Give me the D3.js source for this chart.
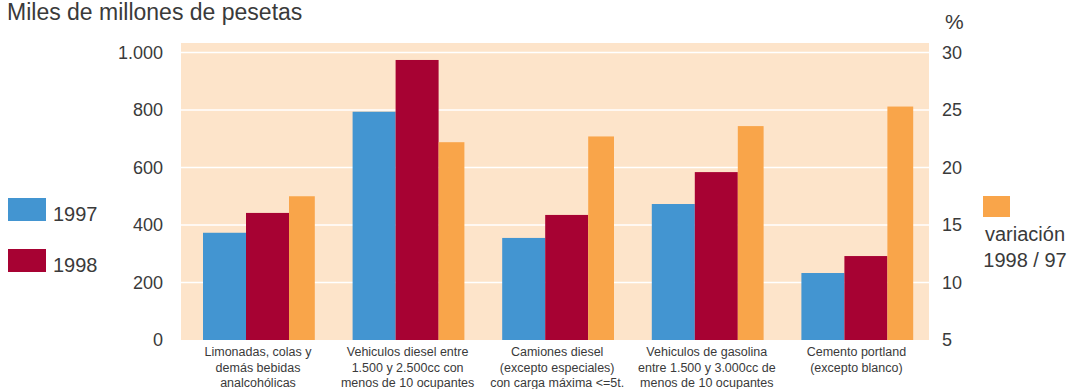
<!DOCTYPE html>
<html>
<head>
<meta charset="utf-8">
<script src="https://cdn.jsdelivr.net/npm/d3@7"></script>
<style>
	body { margin: 0; background: #fff; }
	svg { display: block; font-family: "Liberation Sans", Arial, sans-serif; }
</style>
</head>
<body>
<div id="chart"></div>
<script>
const categories = [
	['Limonadas, colas y', 'demás bebidas', 'analcohólicas'],
	['Vehiculos diesel entre', '1.500 y 2.500cc con', 'menos de 10 ocupantes'],
	['Camiones diesel', '(excepto especiales)', 'con carga máxima <=5t.'],
	['Vehiculos de gasolina', 'entre 1.500 y 3.000cc de', 'menos de 10 ocupantes'],
	['Cemento portland', '(excepto blanco)']
];
const values1997 = [373, 794, 355, 473, 233];
const values1998 = [442, 974, 435, 584, 292];
const variacion = [17.5, 22.2, 22.7, 23.6, 25.3];
const leftTicks = [0, 200, 400, 600, 800, 1000];
const rightTicks = [5, 10, 15, 20, 25, 30];

const width = 1067, height = 389;
const plot = { left: 181, right: 929, top: 52.5, bottom: 340 };
const colors = { b1997: '#4395d1', b1998: '#a70233', vari: '#f9a54a', bg: '#fde4ca', text: '#3a3a3a' };

const svg = d3.select('#chart').append('svg')
	.attr('width', width)
	.attr('height', height);

const xScale = d3.scaleBand()
	.domain(d3.range(categories.length))
	.range([plot.left, plot.right])
	.padding(0);

const subScale = d3.scaleBand()
	.domain(['1997', '1998', 'var'])
	.range([22, 151]);

const yLeft = d3.scaleLinear().domain([0, 1000]).range([plot.bottom, plot.top]);
const yRight = d3.scaleLinear().domain([5, 30]).range([plot.bottom, plot.top]);

// background panel
svg.append('rect')
	.attr('x', plot.left)
	.attr('y', plot.top - 9.5)
	.attr('width', plot.right - plot.left)
	.attr('height', plot.bottom - plot.top + 9.5)
	.attr('fill', colors.bg);

// grid lines
svg.append('g').selectAll('line')
	.data(leftTicks.slice(1))
	.enter().append('line')
	.attr('x1', plot.left)
	.attr('x2', plot.right)
	.attr('y1', d => yLeft(d))
	.attr('y2', d => yLeft(d))
	.attr('stroke', '#fff')
	.attr('stroke-width', 1.5);

// bars
const groups = svg.append('g').selectAll('g')
	.data(categories.map((c, i) => i))
	.enter().append('g')
	.attr('transform', i => `translate(${xScale(i)},0)`);

groups.append('rect')
	.attr('x', subScale('1997'))
	.attr('y', i => yLeft(values1997[i]))
	.attr('width', subScale.bandwidth())
	.attr('height', i => plot.bottom - yLeft(values1997[i]))
	.attr('fill', colors.b1997);

groups.append('rect')
	.attr('x', subScale('1998'))
	.attr('y', i => yLeft(values1998[i]))
	.attr('width', subScale.bandwidth())
	.attr('height', i => plot.bottom - yLeft(values1998[i]))
	.attr('fill', colors.b1998);

groups.append('rect')
	.attr('x', subScale('var'))
	.attr('y', i => yRight(variacion[i]))
	.attr('width', subScale.bandwidth() * 0.6)
	.attr('height', i => plot.bottom - yRight(variacion[i]))
	.attr('fill', colors.vari);

// category labels
groups.append('text')
	.attr('text-anchor', 'middle')
	.style('font-size', '12.5px')
	.style('fill', colors.text)
	.selectAll('tspan')
	.data(i => categories[i])
	.enter().append('tspan')
	.attr('x', 22 + 55)
	.attr('y', (d, j) => 356 + j * 15.5)
	.text(d => d);

// left axis
const fmt = d3.formatLocale({ decimal: ',', thousands: '.', grouping: [3], currency: ['', ''] }).format(',');
const axisL = svg.append('g')
	.attr('transform', `translate(${plot.left},0)`)
	.call(d3.axisLeft(yLeft).tickValues(leftTicks).tickFormat(fmt).tickSize(0).tickPadding(18));
axisL.select('.domain').remove();
axisL.selectAll('text')
	.style('font-size', '18px')
	.style('font-family', '"Liberation Sans", Arial, sans-serif')
	.style('fill', colors.text);

// right axis
const axisR = svg.append('g')
	.attr('transform', `translate(${plot.right},0)`)
	.call(d3.axisRight(yRight).tickValues(rightTicks).tickSize(0).tickPadding(13));
axisR.select('.domain').remove();
axisR.selectAll('text')
	.style('font-size', '18px')
	.style('font-family', '"Liberation Sans", Arial, sans-serif')
	.style('fill', colors.text);

// titles
svg.append('text')
	.attr('x', 7)
	.attr('y', 20)
	.style('font-size', '23px')
	.style('fill', colors.text)
	.text('Miles de millones de pesetas');

svg.append('text')
	.attr('x', 945)
	.attr('y', 29)
	.style('font-size', '21px')
	.style('fill', colors.text)
	.text('%');

// legends
const legendLeft = [
	{ label: '1997', color: colors.b1997, y: 198 },
	{ label: '1998', color: colors.b1998, y: 249 }
];
const legL = svg.append('g').selectAll('g')
	.data(legendLeft)
	.enter().append('g');
legL.append('rect')
	.attr('x', 8)
	.attr('y', d => d.y)
	.attr('width', 38)
	.attr('height', 23)
	.attr('fill', d => d.color);
legL.append('text')
	.attr('x', 53)
	.attr('y', d => d.y + 23)
	.style('font-size', '20px')
	.style('fill', colors.text)
	.text(d => d.label);

svg.append('rect')
	.attr('x', 983)
	.attr('y', 196)
	.attr('width', 27)
	.attr('height', 21)
	.attr('fill', colors.vari);

svg.append('text')
	.attr('text-anchor', 'middle')
	.style('font-size', '20px')
	.style('fill', colors.text)
	.selectAll('tspan')
	.data(['variación', '1998 / 97'])
	.enter().append('tspan')
	.attr('x', 1025)
	.attr('y', (d, j) => 241 + j * 26)
	.text(d => d);
</script>
</body>
</html>
